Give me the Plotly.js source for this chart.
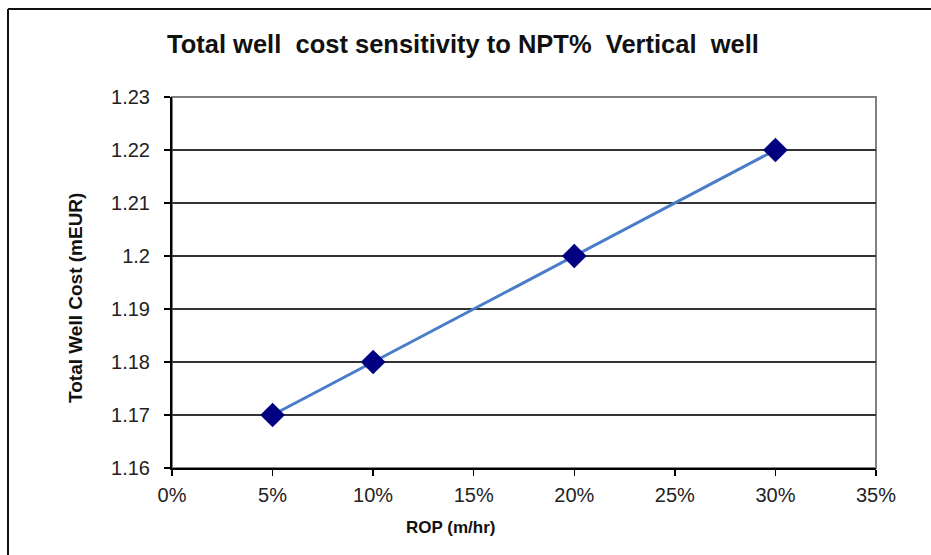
<!DOCTYPE html>
<html>
<head>
<meta charset="utf-8">
<script src="https://cdn.plot.ly/plotly-3.0.1.min.js"></script>
<style>html,body{margin:0;padding:0;background:#fff;}#chart{width:931px;height:555px;}</style>
</head>
<body>
<div id="chart"></div>
<script>
const npt = [0.05, 0.10, 0.20, 0.30];
const wellCost = [1.17, 1.18, 1.20, 1.22];
const xTicks = [0, 0.05, 0.10, 0.15, 0.20, 0.25, 0.30, 0.35];
const xTickLabels = ['0%', '5%', '10%', '15%', '20%', '25%', '30%', '35%'];
const yTicks = [1.16, 1.17, 1.18, 1.19, 1.20, 1.21, 1.22, 1.23];
const yTickLabels = ['1.16', '1.17', '1.18', '1.19', '1.2', '1.21', '1.22', '1.23'];

const L = 172, R = 55, T = 97, B = 87, W = 931, H = 555;
const pw = W - L - R, ph = H - T - B;
const px = p => (p - L) / pw;
const py = p => (H - B - p) / ph;

const trace = {
  x: npt, y: wellCost, type: 'scatter', mode: 'lines+markers',
  line: {color: '#4a7cc9', width: 3},
  marker: {symbol: 'diamond', color: '#000080', size: 19, line: {width: 0}},
  hoverinfo: 'skip', showlegend: false, cliponaxis: false
};

const font = {family: 'Liberation Sans, Arial, sans-serif', color: '#222'};

const layout = {
  width: W, height: H,
  margin: {l: L, r: R, t: T, b: B, pad: 0},
  paper_bgcolor: '#fff', plot_bgcolor: '#fff',
  showlegend: false,
  font: font,
  xaxis: {
    range: [0, 0.35], tickvals: xTicks, ticktext: xTickLabels,
    showgrid: false, zeroline: false,
    showline: true, linecolor: '#000', linewidth: 2,
    ticks: 'outside', ticklen: 6, tickwidth: 1.5, tickcolor: '#000',
    ticklabelstandoff: 2,
    tickfont: {family: font.family, size: 20, color: '#222'}, fixedrange: true
  },
  yaxis: {
    range: [1.16, 1.23], tickvals: yTicks, ticktext: yTickLabels,
    showgrid: true, gridcolor: '#333', gridwidth: 1.5, zeroline: false,
    showline: true, linecolor: '#000', linewidth: 2,
    ticks: 'outside', ticklen: 6, tickwidth: 1.5, tickcolor: '#000',
    ticklabelstandoff: 10,
    tickfont: {family: font.family, size: 20, color: '#222'}, fixedrange: true
  },
  shapes: [
    {type: 'rect', xref: 'paper', yref: 'paper', x0: 0, x1: 1, y0: 0, y1: 1,
     line: {color: '#808080', width: 2}, layer: 'below'},
    {type: 'line', xref: 'paper', yref: 'paper', x0: px(8), x1: px(931), y0: py(9), y1: py(9),
     line: {color: '#111', width: 2}},
    {type: 'line', xref: 'paper', yref: 'paper', x0: px(8), x1: px(8), y0: py(9), y1: py(556),
     line: {color: '#111', width: 2}}
  ],
  annotations: [
    {text: '<b>Total well  cost sensitivity to NPT%  Vertical  well</b>', xref: 'paper', yref: 'paper',
     x: px(463), y: py(44), xanchor: 'center', yanchor: 'middle', showarrow: false,
     font: {family: 'Liberation Sans, Arial, sans-serif', size: 25.5, color: '#111'}},
    {text: '<b>Total Well Cost (mEUR)</b>', xref: 'paper', yref: 'paper',
     x: px(75), y: py(298), xanchor: 'center', yanchor: 'middle', textangle: -90, showarrow: false,
     font: {family: font.family, size: 19, color: '#111'}},
    {text: '<b>ROP (m/hr)</b>', xref: 'paper', yref: 'paper',
     x: px(450), y: py(527), xanchor: 'center', yanchor: 'middle', showarrow: false,
     font: {family: font.family, size: 17, color: '#111'}}
  ]
};

Plotly.newPlot('chart', [trace], layout, {displayModeBar: false, staticPlot: true});
</script>
</body>
</html>
